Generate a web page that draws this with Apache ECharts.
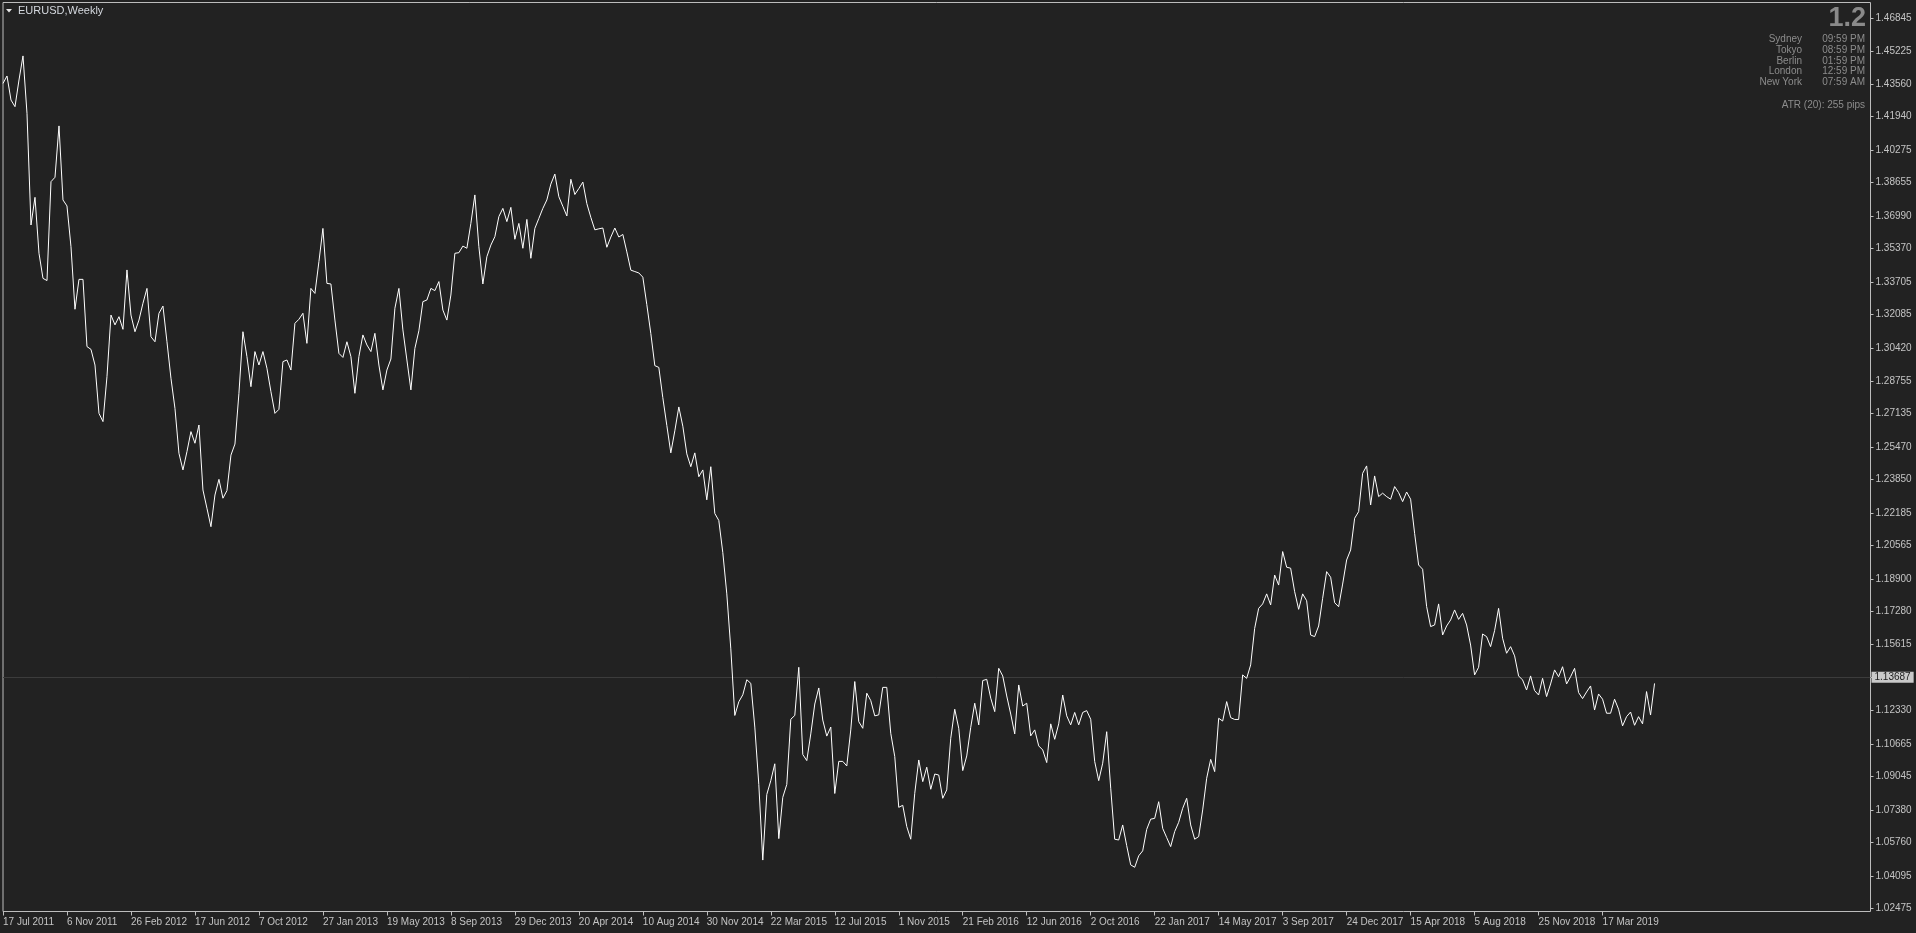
<!DOCTYPE html>
<html>
<head>
<meta charset="utf-8">
<script src="https://cdn.jsdelivr.net/npm/echarts@6/dist/echarts.min.js"></script>
<style>
html,body{margin:0;padding:0;background:#222222;overflow:hidden;}
#chart{width:1916px;height:933px;}
</style>
</head>
<body>
<div id="chart"></div>
<script>
// ---- Weekly closes of EURUSD (one value per week, week starting Sunday) ----
const close2011 = [1.4360,1.4397,1.4277,1.4244,1.4377,1.4497,1.4211,1.3654,1.3792,1.3513,1.3388,1.3377,1.3870,1.3892,1.4148,1.3779,1.3749,1.3546,1.3234,1.3383,1.3383,1.3048,1.3034,1.2956];
const close2012 = [1.2715,1.2674,1.2898,1.3205,1.3156,1.3197,1.3134,1.3430,1.3205,1.3122,1.3180,1.3264,1.3338,1.3097,1.3072,1.3214,1.3250,1.3072,1.2890,1.2740,1.2516,1.2433,1.2524,1.2624,1.2566,1.2657,1.2333,1.2242,1.2150,1.2308,1.2386,1.2292,1.2330,1.2507,1.2562,1.2815,1.3122,1.2998,1.2848,1.3023,1.2956,1.3023,1.2940,1.2823,1.2715,1.2735,1.2973,1.2981,1.2931,1.3164,1.3184,1.3214,1.3064];
const close2013 = [1.3338,1.3313,1.3471,1.3637,1.3363,1.3360,1.3180,1.3014,1.2994,1.3072,1.2998,1.2815,1.2998,1.3106,1.3056,1.3023,1.3114,1.2956,1.2832,1.2931,1.2986,1.3239,1.3338,1.3131,1.2981,1.2832,1.3039,1.3127,1.3272,1.3280,1.3338,1.3327,1.3372,1.3230,1.3180,1.3305,1.3513,1.3516,1.3549,1.3538,1.3662,1.3804,1.3546,1.3360,1.3496,1.3554,1.3596,1.3696,1.3737,1.3671,1.3742,1.3583];
const close2014 = [1.3662,1.3538,1.3682,1.3488,1.3637,1.3687,1.3737,1.3779,1.3858,1.3908,1.3795,1.3747,1.3699,1.3882,1.3806,1.3836,1.3868,1.3761,1.3692,1.3630,1.3635,1.3639,1.3543,1.3594,1.3639,1.3594,1.3607,1.3520,1.3429,1.3422,1.3415,1.3394,1.3257,1.3113,1.2953,1.2944,1.2793,1.2655,1.2518,1.2628,1.2747,1.2651,1.2513,1.2449,1.2518,1.2399,1.2433,1.2284,1.2449,1.2216,1.2181,1.2021];
const close2015 = [1.1815,1.1541,1.1209,1.1277,1.1312,1.1387,1.1369,1.1151,1.0865,1.0488,1.0815,1.0884,1.0968,1.0595,1.0801,1.0865,1.1190,1.1209,1.1449,1.1014,1.0984,1.1117,1.1266,1.1346,1.1186,1.1106,1.1151,1.0820,1.0980,1.0980,1.0957,1.1137,1.1378,1.1178,1.1145,1.1320,1.1283,1.1207,1.1212,1.1349,1.1349,1.1120,1.1004,1.0751,1.0761,1.0655,1.0592,1.0821,1.0987,1.0879,1.0951,1.0841];
const close2016 = [1.0917,1.0912,1.0796,1.0838,1.1095,1.1240,1.1145,1.0934,1.1007,1.1150,1.1270,1.1162,1.1383,1.1389,1.1295,1.1228,1.1444,1.1406,1.1306,1.1216,1.1117,1.1361,1.1256,1.1270,1.1107,1.1137,1.1057,1.1037,1.0974,1.1167,1.1090,1.1167,1.1311,1.1207,1.1162,1.1224,1.1162,1.1224,1.1233,1.1190,1.0979,1.0884,1.0971,1.1128,1.0846,1.0592,1.0588,1.0663,1.0560,1.0464,1.0452,1.0509];
const close2017 = [1.0534,1.0641,1.0692,1.0696,1.0779,1.0646,1.0600,1.0555,1.0630,1.0676,1.0746,1.0796,1.0663,1.0592,1.0605,1.0738,1.0896,1.0990,1.0929,1.1195,1.1181,1.1278,1.1198,1.1189,1.1189,1.1411,1.1394,1.1461,1.1643,1.1743,1.1765,1.1815,1.1760,1.1909,1.1859,1.2026,1.1948,1.1943,1.1826,1.1738,1.1815,1.1781,1.1610,1.1602,1.1655,1.1793,1.1926,1.1898,1.1771,1.1751,1.1864,1.1984,1.2034];
const close2018 = [1.2192,1.2225,1.2416,1.2453,1.2258,1.2403,1.2300,1.2317,1.2300,1.2287,1.2350,1.2320,1.2275,1.2323,1.2287,1.2117,1.1959,1.1938,1.1752,1.1652,1.1660,1.1765,1.1610,1.1655,1.1685,1.1735,1.1688,1.1718,1.1660,1.1560,1.1411,1.1449,1.1615,1.1602,1.1552,1.1632,1.1743,1.1594,1.1519,1.1552,1.1506,1.1406,1.1386,1.1336,1.1406,1.1333,1.1311,1.1394,1.1303,1.1366,1.1436,1.1402];
const close2019 = [1.1452,1.1366,1.1402,1.1444,1.1323,1.1293,1.1326,1.1356,1.1236,1.1316,1.1290,1.1220,1.1220,1.1290,1.1240,1.1157,1.1203,1.1226,1.1160,1.1203,1.1167,1.1328,1.1211,1.13687];

// ---- Tick labels ----
const dateTickLabels = ['17 Jul 2011','6 Nov 2011','26 Feb 2012','17 Jun 2012','7 Oct 2012','27 Jan 2013','19 May 2013','8 Sep 2013','29 Dec 2013','20 Apr 2014','10 Aug 2014','30 Nov 2014','22 Mar 2015','12 Jul 2015','1 Nov 2015','21 Feb 2016','12 Jun 2016','2 Oct 2016','22 Jan 2017','14 May 2017','3 Sep 2017','24 Dec 2017','15 Apr 2018','5 Aug 2018','25 Nov 2018','17 Mar 2019'];
const priceTickLabels = [1.46845,1.45225,1.43560,1.41940,1.40275,1.38655,1.36990,1.35370,1.33705,1.32085,1.30420,1.28755,1.27135,1.25470,1.23850,1.22185,1.20565,1.18900,1.17280,1.15615,1.13995,1.12330,1.10665,1.09045,1.07380,1.05760,1.04095,1.02475];
const lastPrice = 1.13687;

// ---- Header / info texts ----
const symbolTitle = 'EURUSD,Weekly';
const bigInfo = '1.2';
const clockCities = ['Sydney','Tokyo','Berlin','London','New York'];
const clockTimes = ['09:59 PM','08:59 PM','01:59 PM','12:59 PM','07:59 AM'];
const atrText = 'ATR (20): 255 pips';

// ---- Build ----
const closes = [].concat(close2011, close2012, close2013, close2014, close2015, close2016, close2017, close2018, close2019);
const WEEKS_PER_TICK = 16;
const SLOTS = 468; // visible bar slots including right-side empty space
const monthNames = ['Jan','Feb','Mar','Apr','May','Jun','Jul','Aug','Sep','Oct','Nov','Dec'];
const start = Date.UTC(2011, 6, 17);
const categories = [];
for (let i = 0; i < SLOTS; i++) {
  const d = new Date(start + i * 7 * 86400000);
  categories.push(d.getUTCDate() + ' ' + monthNames[d.getUTCMonth()] + ' ' + d.getUTCFullYear());
}
const isTick = (idx) => idx % WEEKS_PER_TICK === 0 && idx / WEEKS_PER_TICK < dateTickLabels.length;

const FONT = '"Liberation Sans",Arial,sans-serif';
const AXIS_COLOR = '#c4c4c4';
const FRAME_COLOR = '#bdbdbd';

const chart = echarts.init(document.getElementById('chart'), null, {renderer: 'canvas'});

const graphics = [
  {type:'polygon', shape:{points:[[6,9],[12,9],[9,12.5]]}, style:{fill:'#e6e6e6'}, z:10},
  {type:'text', x:18, y:10.5, style:{text:symbolTitle, fill:'#d4d8de', font:'11px ' + FONT, verticalAlign:'middle', align:'left'}, z:10},
  {type:'text', x:1866, y:19, style:{text:bigInfo, fill:'#8a8a8a', font:'bold 27px ' + FONT, verticalAlign:'middle', align:'right'}, z:10},
  {type:'text', x:1865, y:105.3, style:{text:atrText, fill:'#8c8c8c', font:'10px ' + FONT, verticalAlign:'middle', align:'right'}, z:10}
];
clockCities.forEach((c, k) => {
  graphics.push({type:'text', x:1802, y:39.3 + k * 10.75, style:{text:c, fill:'#8c8c8c', font:'10px ' + FONT, verticalAlign:'middle', align:'right'}, z:10});
  graphics.push({type:'text', x:1865, y:39.3 + k * 10.75, style:{text:clockTimes[k], fill:'#8c8c8c', font:'10px ' + FONT, verticalAlign:'middle', align:'right'}, z:10});
});

chart.setOption({
  backgroundColor: '#222222',
  animation: false,
  grid: {left: 2.5, top: 2.5, width: 1868, height: 909, show: true, borderColor: FRAME_COLOR, borderWidth: 1, backgroundColor: 'transparent'},
  xAxis: {
    type: 'category',
    data: categories,
    boundaryGap: false,
    axisLine: {show: false},
    splitLine: {show: false},
    axisTick: {show: true, length: 4, interval: (idx) => isTick(idx), lineStyle: {color: FRAME_COLOR}},
    axisLabel: {
      show: true, interval: (idx) => isTick(idx), align: 'left', margin: 6,
      color: AXIS_COLOR, fontSize: 10, fontFamily: FONT,
      formatter: (v, idx) => dateTickLabels[Math.round(idx / WEEKS_PER_TICK)] || ''
    }
  },
  yAxis: {
    type: 'value',
    position: 'right',
    min: 1.02316,
    max: 1.47633,
    scale: true,
    axisLine: {show: false},
    splitLine: {show: false},
    axisTick: {show: true, length: 3, customValues: priceTickLabels, lineStyle: {color: FRAME_COLOR}},
    axisLabel: {
      show: true, customValues: priceTickLabels, margin: 5, color: AXIS_COLOR, fontSize: 10, fontFamily: FONT,
      formatter: (v) => v.toFixed(5)
    }
  },
  graphic: graphics,
  series: [{
    type: 'line',
    data: closes,
    showSymbol: false,
    symbol: 'none',
    smooth: false,
    lineStyle: {color: '#ffffff', width: 1},
    silent: true,
    z: 3,
    markLine: {
      silent: true,
      symbol: ['none', 'none'],
      z: 2,
      lineStyle: {color: '#3c3c3c', type: 'solid', width: 1},
      label: {
        show: true, position: 'end', distance: 1,
        formatter: () => lastPrice.toFixed(5),
        backgroundColor: '#c9c9c9', color: '#1c1c1c', padding: [1, 3, 0, 3],
        fontSize: 10, fontFamily: FONT
      },
      data: [{yAxis: lastPrice}]
    }
  }]
});
</script>
</body>
</html>
